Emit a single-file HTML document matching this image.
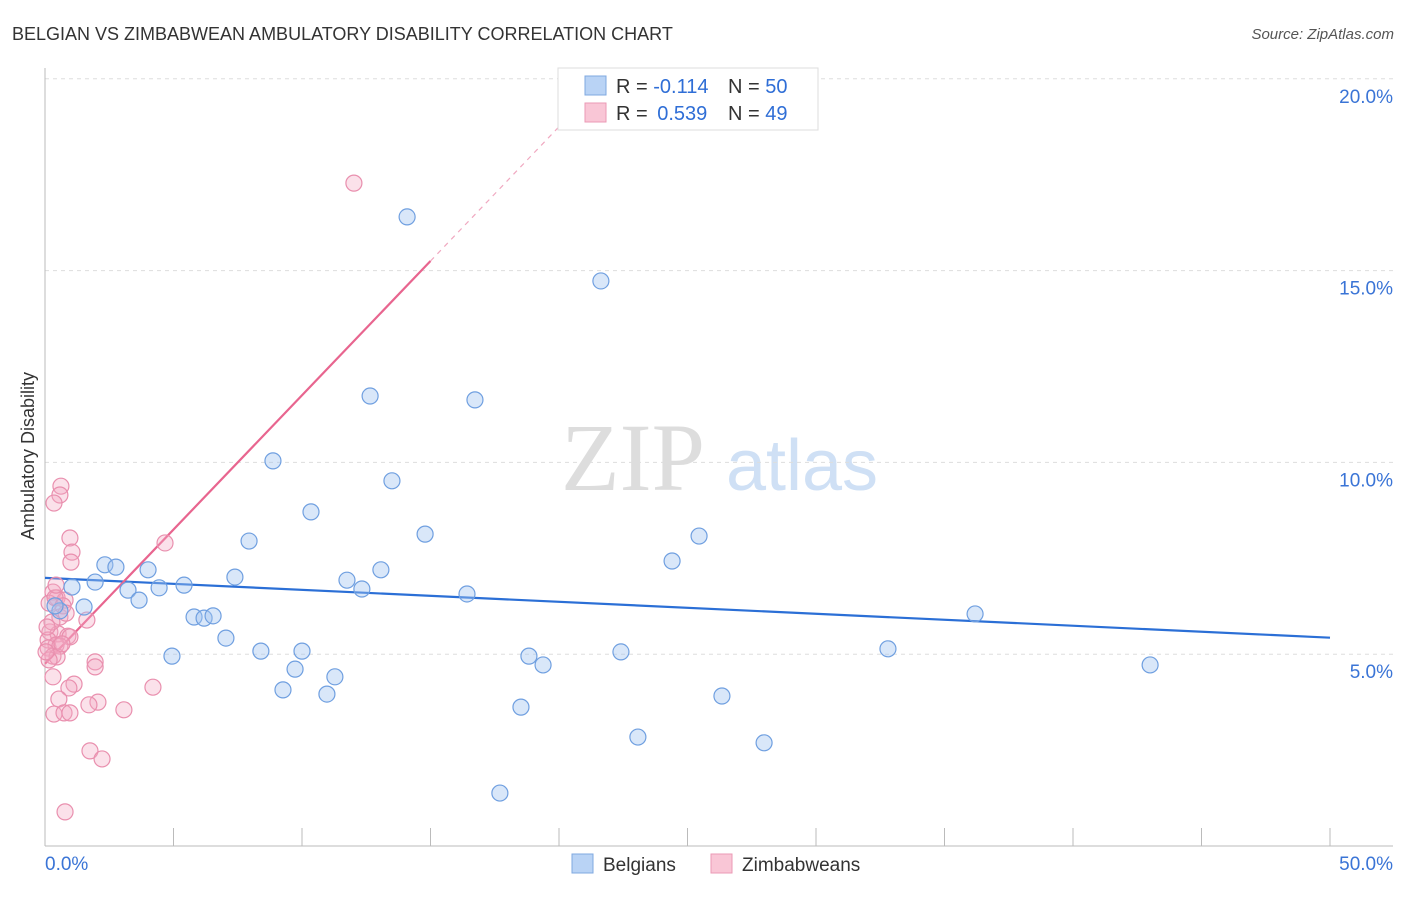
<!DOCTYPE html>
<html><head><meta charset="utf-8"><style>
body{margin:0;background:#fff;font-family:"Liberation Sans",sans-serif;}
svg text{font-family:"Liberation Sans",sans-serif;}
</style></head><body>
<svg id="chart" width="1406" height="892">
<text x="12" y="40" font-size="18" fill="#333">BELGIAN VS ZIMBABWEAN AMBULATORY DISABILITY CORRELATION CHART</text>
<text x="1394" y="39" font-size="15" fill="#555" font-style="italic" text-anchor="end">Source: ZipAtlas.com</text>
<text transform="translate(34,456) rotate(-90)" font-size="18" fill="#333" text-anchor="middle">Ambulatory Disability</text>
<g>
<text x="633" y="490" font-size="96" fill="#ddd" text-anchor="middle" font-family="Liberation Serif" style="font-family:'Liberation Serif',serif">ZIP</text>
<text x="802" y="490" font-size="72" fill="#cfe0f5" text-anchor="middle">atlas</text>
</g>
<g id="grid"></g><g id="axes"></g><g id="lines"></g><g id="pts"></g>
<g>
<rect x="558" y="68" width="260" height="62" fill="#fff" stroke="#ddd"/>
<rect x="585" y="76" width="21" height="19" fill="#b9d3f5" stroke="#7fa8e0"/>
<rect x="585" y="103" width="21" height="19" fill="#f9c6d6" stroke="#eb9ab5"/>
<text x="616" y="93" font-size="20" fill="#333">R = <tspan fill="#2f6ed6">-0.114</tspan><tspan x="728">N = </tspan><tspan fill="#2f6ed6">50</tspan></text>
<text x="616" y="120" font-size="20" fill="#333">R = <tspan fill="#2f6ed6" dx="4">0.539</tspan><tspan x="728">N = </tspan><tspan fill="#2f6ed6">49</tspan></text>
</g>
<g>
<rect x="572" y="854" width="21" height="19" fill="#b9d3f5" stroke="#7fa8e0"/>
<text x="603" y="871" font-size="19" fill="#333">Belgians</text>
<rect x="711" y="854" width="21" height="19" fill="#f9c6d6" stroke="#eb9ab5"/>
<text x="742" y="871" font-size="19" fill="#333">Zimbabweans</text>
</g>
</svg>
<script>
const yTicks=[5,10,15,20];
const yTickLabels=["5.0%","10.0%","15.0%","20.0%"];
const xTickLabels=["0.0%","50.0%"];
const belX=[14.09,21.63,12.65,16.73,8.87,13.50,10.35,14.79,7.94,25.45,24.40,2.33,2.76,4.01,13.07,7.39,1.95,11.75,1.05,5.41,3.23,4.44,12.33,16.42,3.66,36.19,1.52,0.58,5.80,6.19,6.54,7.04,8.40,10.00,4.94,32.80,18.83,22.41,19.38,43.00,9.73,11.28,9.26,10.97,26.34,18.52,23.07,27.98,17.70,0.39];
const belY=[16.40,14.73,11.73,11.63,10.04,9.52,8.71,8.13,7.95,8.08,7.43,7.33,7.27,7.20,7.20,7.01,6.88,6.93,6.75,6.80,6.67,6.73,6.70,6.57,6.41,6.05,6.23,6.13,5.97,5.94,6.00,5.42,5.08,5.08,4.95,5.14,4.95,5.06,4.72,4.72,4.61,4.41,4.07,3.96,3.91,3.62,2.84,2.69,1.38,6.26];
const zimX=[12.02,0.62,0.58,0.35,0.97,1.05,1.01,4.67,0.31,0.47,0.78,0.16,0.39,1.63,0.19,0.51,0.89,0.97,0.12,0.43,0.12,0.58,0.31,0.47,0.16,1.95,1.95,0.31,1.13,0.93,4.20,0.54,2.06,1.71,3.07,0.35,0.74,0.97,1.75,2.22,0.78,0.58,0.27,0.66,0.04,0.43,0.08,0.70,0.82];
const zimY=[17.28,9.38,9.15,8.94,8.03,7.66,7.40,7.90,6.62,6.47,6.41,6.33,6.47,5.89,5.58,5.53,5.47,5.45,5.37,5.24,5.16,5.21,4.95,4.93,4.85,4.80,4.67,4.41,4.22,4.12,4.14,3.83,3.75,3.68,3.55,3.44,3.47,3.47,2.48,2.27,0.89,5.97,5.84,5.27,5.06,6.80,5.71,6.26,6.07];
const belTrend=[6.99,5.43];
const zimTrend=[4.75,0.70];
const X=v=>45+v*25.7, Y=v=>846-v*38.36;
const NS="http://www.w3.org/2000/svg";
function mk(t,a,p){const e=document.createElementNS(NS,t);for(const k in a)e.setAttribute(k,a[k]);p.appendChild(e);return e;}
const grid=document.getElementById('grid'),axes=document.getElementById('axes'),lines=document.getElementById('lines'),pts=document.getElementById('pts');
yTicks.forEach((t,i)=>{
 const l=mk('line',{x1:45,x2:1393,y1:Y(t),y2:Y(t),stroke:'#ddd','stroke-dasharray':'4,4'},grid);
 
 
 const tx=mk('text',{x:1393,y:Y(t)+24,'font-size':19,fill:'#3a74d6','text-anchor':'end'},axes);
 tx.textContent=yTickLabels[i];
 
 
});
mk('line',{x1:45,x2:45,y1:68,y2:846,stroke:'#bbb'},axes);
mk('line',{x1:45,x2:1393,y1:846,y2:846,stroke:'#bbb'},axes);
for(let i=1;i<=10;i++){const l=mk('line',{x1:X(i*5),x2:X(i*5),y1:828,y2:846,stroke:'#bbb'},axes);
 
 }
[[0,'start'],[50,'end']].forEach((d,i)=>{const t=mk('text',{x:i?1393:45,y:870,'font-size':19,fill:'#3a74d6','text-anchor':d[1]},axes);t.textContent=xTickLabels[i];
 
 });
const bl=mk('line',{x1:X(0),y1:Y(belTrend[0]),x2:X(50),y2:Y(belTrend[1]),stroke:'#2b6fd6','stroke-width':2.2},lines);


const zl=mk('line',{x1:X(0),y1:Y(zimTrend[0]),x2:X(15),y2:Y(zimTrend[0]+15*zimTrend[1]),stroke:'#e8658f','stroke-width':2.2},lines);


const zd=mk('line',{x1:X(15),y1:Y(zimTrend[0]+15*zimTrend[1]),x2:X(20),y2:Y(zimTrend[0]+20*zimTrend[1]),stroke:'#f0a8c0','stroke-width':1.2,'stroke-dasharray':'5,5'},lines);


zimX.forEach((x,i)=>{const c=mk('circle',{cx:X(x),cy:Y(zimY[i]),r:8,fill:'rgba(244,170,196,0.35)',stroke:'#e98fae','stroke-width':1.2},pts);
 
 });
belX.forEach((x,i)=>{const c=mk('circle',{cx:X(x),cy:Y(belY[i]),r:8,fill:'rgba(160,196,240,0.4)',stroke:'#6f9fe0','stroke-width':1.2},pts);
 
 });
</script>
</body></html>
